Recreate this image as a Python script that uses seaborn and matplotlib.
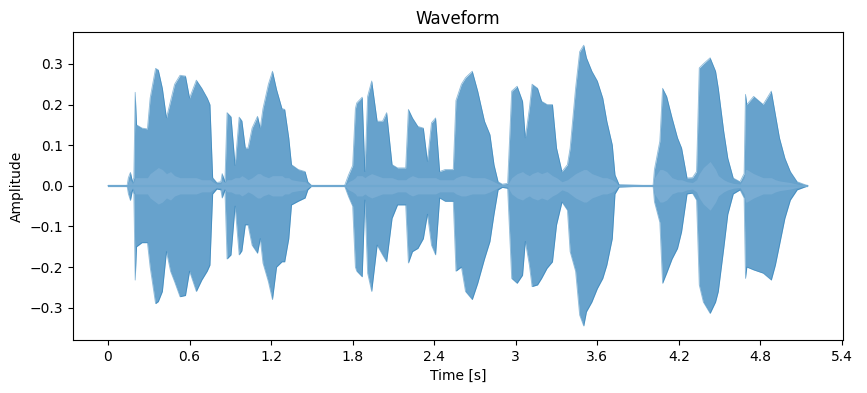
import matplotlib
matplotlib.use("Agg")
import matplotlib.pyplot as plt
import seaborn as sns
import pandas as pd

# Envelope of the waveform (time in s, amplitude)
times = [0.00, 0.14, 0.15, 0.165, 0.18, 0.19, 0.20, 0.21, 0.25, 0.29, 0.31, 0.35, 0.37, 0.40, 0.43,
         0.46, 0.49, 0.53, 0.57, 0.60, 0.65, 0.69, 0.73, 0.75, 0.77, 0.80, 0.83, 0.84, 0.86, 0.876,
         0.905, 0.935, 0.965, 0.985, 1.01, 1.03, 1.06, 1.10, 1.12, 1.14, 1.18, 1.21, 1.24, 1.28, 1.30,
         1.33, 1.35, 1.40, 1.45, 1.47, 1.50, 1.74, 1.77, 1.80, 1.82, 1.83, 1.87, 1.89, 1.91, 1.94,
         1.98, 2.02, 2.05, 2.09, 2.13, 2.19, 2.21, 2.24, 2.28, 2.32, 2.35, 2.38, 2.41, 2.44, 2.48,
         2.54, 2.56, 2.60, 2.63, 2.68, 2.72, 2.77, 2.81, 2.84, 2.87, 2.90, 2.94, 2.97, 3.01, 3.05,
         3.07, 3.10, 3.12, 3.16, 3.19, 3.23, 3.27, 3.30, 3.34, 3.38, 3.40, 3.44, 3.47, 3.50, 3.52,
         3.56, 3.60, 3.64, 3.67, 3.71, 3.73, 3.76, 4.01, 4.02, 4.06, 4.08, 4.11, 4.15, 4.19, 4.22,
         4.26, 4.30, 4.33, 4.35, 4.38, 4.43, 4.47, 4.49, 4.53, 4.56, 4.60, 4.65, 4.68, 4.69, 4.70,
         4.75, 4.82, 4.88, 4.91, 4.94, 4.98, 5.02, 5.07, 5.11, 5.15]
upper = [0.0, 0.0, 0.02, 0.033, 0.01, 0.02, 0.23, 0.15, 0.142, 0.14, 0.216, 0.289, 0.285, 0.24, 0.167,
         0.208, 0.25, 0.272, 0.27, 0.216, 0.26, 0.24, 0.216, 0.2, 0.02, 0.008, 0.01, 0.03, 0.01, 0.18,
         0.17, 0.05, 0.169, 0.16, 0.093, 0.093, 0.142, 0.171, 0.142, 0.19, 0.25, 0.282, 0.237, 0.19, 0.188,
         0.118, 0.052, 0.04, 0.035, 0.01, 0.0, 0.0, 0.027, 0.05, 0.19, 0.204, 0.218, 0.035, 0.22, 0.258,
         0.159, 0.159, 0.18, 0.052, 0.044, 0.044, 0.188, 0.167, 0.146, 0.142, 0.06, 0.155, 0.167, 0.035, 0.04,
         0.04, 0.21, 0.25, 0.266, 0.282, 0.233, 0.159, 0.126, 0.052, 0.01, 0.004, 0.006, 0.233, 0.245, 0.208,
         0.118, 0.19, 0.25, 0.24, 0.208, 0.2, 0.2, 0.093, 0.035, 0.052, 0.093, 0.24, 0.33, 0.346, 0.315,
         0.282, 0.258, 0.216, 0.159, 0.101, 0.027, 0.003, 0.0, 0.04, 0.11, 0.24, 0.22, 0.167, 0.118, 0.093,
         0.019, 0.02, 0.035, 0.29, 0.3, 0.315, 0.282, 0.24, 0.134, 0.068, 0.019, 0.01, 0.03, 0.225, 0.2,
         0.22, 0.2, 0.233, 0.175, 0.118, 0.068, 0.035, 0.01, 0.005, 0.0]
lower = [0.0, 0.0, -0.02, -0.036, -0.01, -0.02, -0.232, -0.15, -0.14, -0.14, -0.20, -0.29, -0.285, -0.26, -0.162,
         -0.21, -0.236, -0.273, -0.27, -0.21, -0.26, -0.232, -0.21, -0.195, -0.02, -0.008, -0.01, -0.03, -0.01, -0.18,
         -0.17, -0.05, -0.17, -0.16, -0.096, -0.096, -0.146, -0.166, -0.13, -0.19, -0.236, -0.28, -0.2, -0.187, -0.187,
         -0.13, -0.047, -0.038, -0.03, -0.01, 0.0, 0.0, -0.027, -0.05, -0.2, -0.21, -0.224, -0.035, -0.215, -0.26,
         -0.146, -0.17, -0.187, -0.08, -0.047, -0.047, -0.19, -0.162, -0.154, -0.13, -0.07, -0.146, -0.17, -0.03, -0.038,
         -0.038, -0.21, -0.20, -0.26, -0.28, -0.24, -0.18, -0.137, -0.07, -0.01, -0.004, -0.006, -0.228, -0.24, -0.22,
         -0.137, -0.195, -0.248, -0.244, -0.228, -0.203, -0.187, -0.096, -0.04, -0.06, -0.162, -0.21, -0.318, -0.345, -0.31,
         -0.286, -0.253, -0.228, -0.195, -0.13, -0.02, -0.003, 0.0, -0.039, -0.09, -0.24, -0.215, -0.18, -0.154, -0.113,
         -0.02, -0.018, -0.035, -0.244, -0.286, -0.314, -0.286, -0.26, -0.154, -0.07, -0.02, -0.01, -0.03, -0.228, -0.2,
         -0.207, -0.215, -0.232, -0.195, -0.146, -0.08, -0.035, -0.01, -0.005, 0.0]
inner = [0.0, 0.0, 0.01, 0.015, 0.005, 0.01, 0.02, 0.02, 0.02, 0.02, 0.03, 0.04, 0.045, 0.04, 0.03,
         0.035, 0.025, 0.02, 0.02, 0.02, 0.02, 0.015, 0.015, 0.015, 0.01, 0.004, 0.005, 0.015, 0.008, 0.015,
         0.015, 0.02, 0.02, 0.025, 0.02, 0.015, 0.02, 0.03, 0.03, 0.025, 0.02, 0.025, 0.025, 0.025, 0.02,
         0.02, 0.015, 0.012, 0.01, 0.005, 0.0, 0.0, 0.01, 0.015, 0.02, 0.025, 0.025, 0.02, 0.025, 0.03,
         0.025, 0.02, 0.02, 0.02, 0.015, 0.015, 0.02, 0.025, 0.02, 0.02, 0.02, 0.02, 0.02, 0.015, 0.015,
         0.015, 0.02, 0.025, 0.025, 0.02, 0.02, 0.02, 0.015, 0.01, 0.005, 0.002, 0.003, 0.02, 0.03, 0.035,
         0.03, 0.025, 0.03, 0.035, 0.03, 0.035, 0.025, 0.02, 0.01, 0.015, 0.02, 0.03, 0.035, 0.04, 0.04,
         0.03, 0.025, 0.02, 0.02, 0.015, 0.01, 0.0, 0.0, 0.02, 0.04, 0.04, 0.035, 0.02, 0.015, 0.015,
         0.01, 0.008, 0.015, 0.03, 0.045, 0.06, 0.04, 0.025, 0.015, 0.01, 0.006, 0.004, 0.02, 0.04, 0.04,
         0.03, 0.02, 0.02, 0.015, 0.012, 0.01, 0.008, 0.004, 0.002, 0.0]

xticks = [0, 0.6, 1.2, 1.8, 2.4, 3.0, 3.6, 4.2, 4.8, 5.4]
xtick_labels = ["0", "0.6", "1.2", "1.8", "2.4", "3", "3.6", "4.2", "4.8", "5.4"]
yticks = [-0.3, -0.2, -0.1, 0.0, 0.1, 0.2, 0.3]

df = pd.DataFrame({"time": times, "upper": upper, "lower": lower, "inner": inner})

fig = plt.figure(figsize=(8.67, 3.93), dpi=100)
ax = fig.add_axes([73 / 867, 53 / 393, 770 / 867, 308 / 393])

base = "#1f77b4"
ax.fill_between(df["time"], df["lower"], df["upper"], color=base, alpha=0.68, lw=0)
sns.lineplot(data=df, x="time", y="upper", ax=ax, color=base, alpha=0.5, lw=0.6)
sns.lineplot(data=df, x="time", y="lower", ax=ax, color=base, alpha=0.5, lw=0.6)
ax.fill_between(df["time"], -df["inner"], df["inner"], color="#78acd3", lw=0)
ax.hlines(0, times[0], times[-1], color="#6fa8d0", lw=1.6)

span = times[-1] - times[0]
ax.set_xlim(times[0] - 0.05 * span, times[-1] + 0.05 * span)
ax.set_ylim(-0.3795, 0.3785)
ax.set_xticks(xticks)
ax.set_xticklabels(xtick_labels)
ax.set_yticks(yticks)
ax.set_xlabel("Time [s]")
ax.set_ylabel("Amplitude")
ax.set_title("Waveform")

fig.savefig("out.png", dpi=100)
